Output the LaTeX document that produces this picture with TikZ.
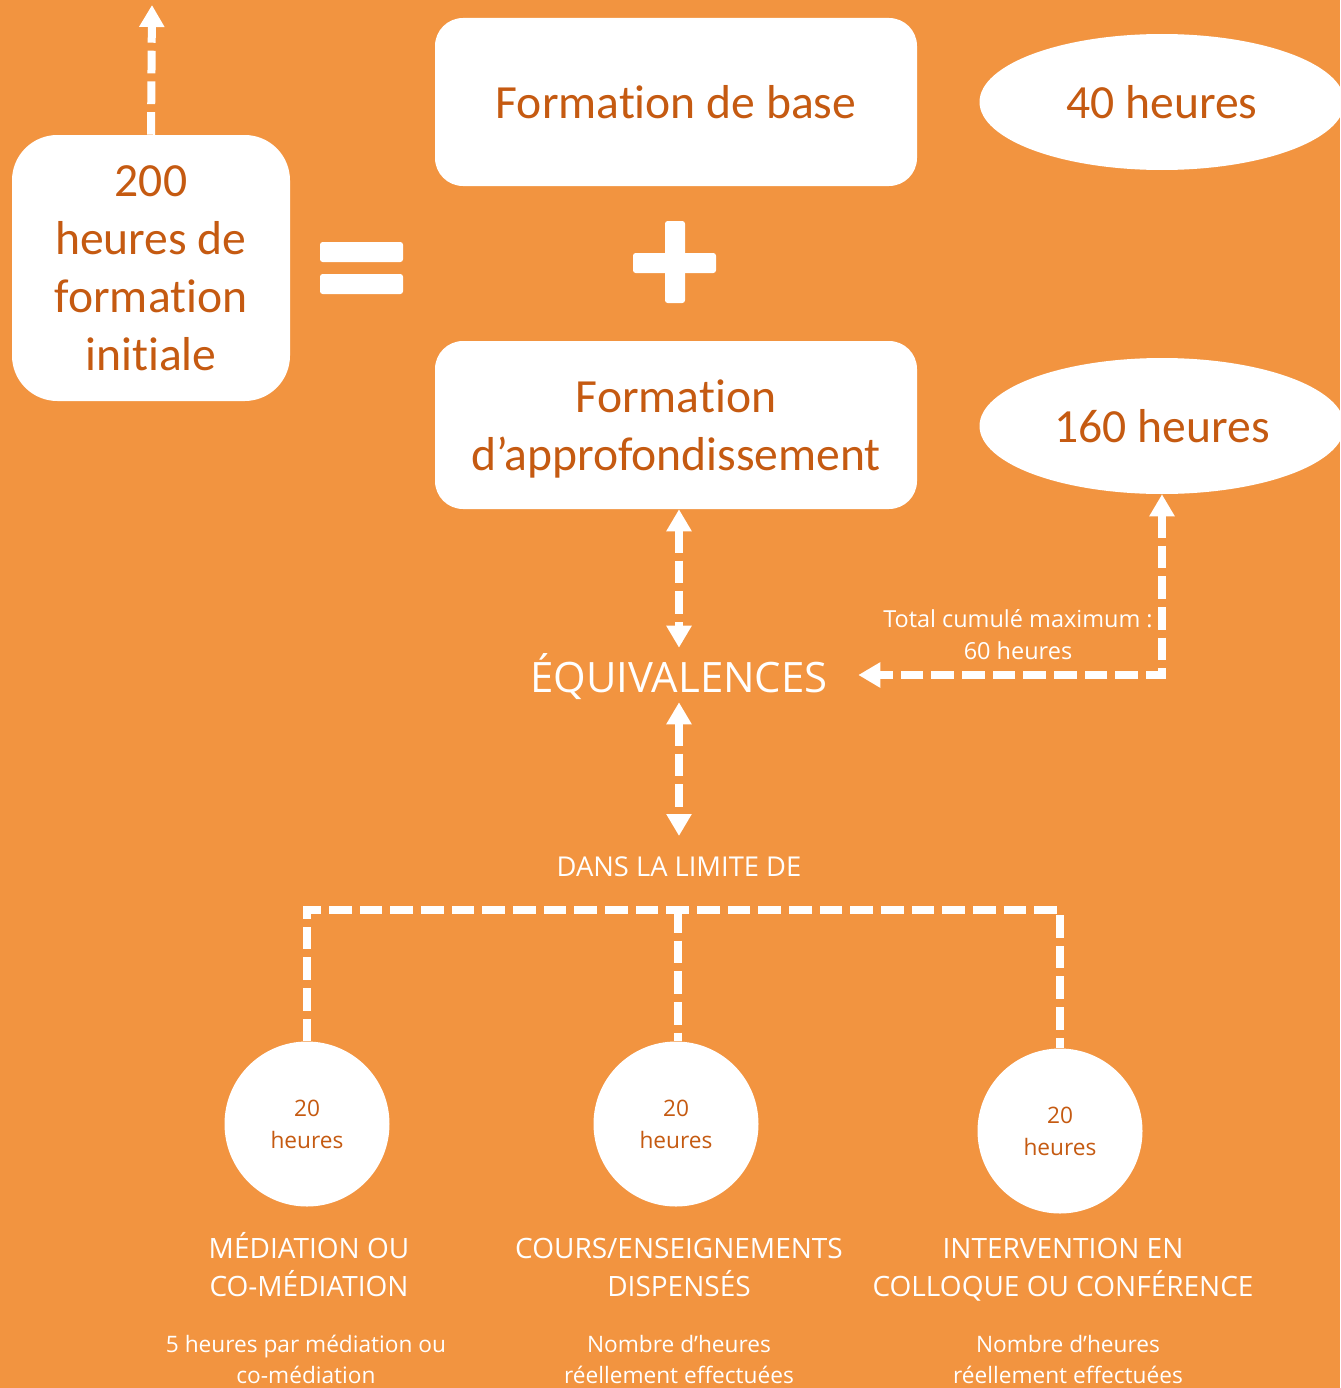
\documentclass[tikz,border=0pt]{standalone}
\usepackage{fontspec}
\setmainfont{Carlito}[RawFeature={-liga;-clig;-calt;-dlig}]
\newfontfamily\osans{Open Sans}
\usetikzlibrary{arrows.meta,shapes.geometric}

\definecolor{bgorange}{RGB}{242,148,64}
\definecolor{txtorange}{RGB}{197,90,17}

\tikzset{
  whitebox/.style={fill=white, text=txtorange, align=center, inner sep=0pt,
    font=\fontsize{35.7}{43.5}\selectfont},
  hourell/.style={ellipse, fill=white, text=txtorange, inner sep=0pt,
    minimum width=273.75pt, minimum height=102pt, font=\fontsize{35.7}{43.5}\selectfont},
  hourdot/.style={circle, fill=white, text=txtorange, align=center, inner sep=0pt,
    minimum size=123.75pt, font=\osans\fontsize{17}{24}\selectfont},
  whitetext/.style={text=white, align=center, inner sep=0pt},
  dashline/.style={white, line width=6pt, dash pattern=on 17pt off 6pt},
  tri/.tip={Triangle[width=18pt,length=16.5pt]}
}

\begin{document}
\begin{tikzpicture}[x=0.75pt,y=0.75pt,yscale=-1,xscale=1]
\useasboundingbox (0,0) rectangle (1340,1388);
\clip (0,0) rectangle (1340,1388);
%Shape: Background
\fill[bgorange] (0,0) rectangle (1340,1388);

%Shape: Rounded Rect [200 heures]
\node[whitebox, rounded corners=34pt, minimum width=208.5pt, minimum height=199.5pt] (initiale) at (151,268) {200\\heures de\\formation\\initiale};
%Shape: Rounded Rect [base]
\node[whitebox, rounded corners=21pt, minimum width=361.5pt, minimum height=126pt] (base) at (676,102) {Formation de base};
%Shape: Rounded Rect [approfondissement]
\node[whitebox, rounded corners=21pt, minimum width=361.5pt, minimum height=126pt, text depth=0pt] (appro) at (676,425) {Formation\\d’approfondissement};

%Shape: Ellipse
\node[hourell] (h40) at (1162,102) {40 heures};
%Shape: Ellipse
\node[hourell] (h160) at (1162,426) {160 heures};

%Shape: Equals
\fill[white, rounded corners=2pt] (320,242) rectangle (403,262);
\fill[white, rounded corners=2pt] (320,274) rectangle (403,294);
%Shape: Plus
\fill[white, rounded corners=2pt] (665,221) rectangle (685,303);
\fill[white, rounded corners=2pt] (633,253) rectangle (716,273);

% Text Node
\node[whitetext, font=\osans\fontsize{31.4}{36}\selectfont, text height=33pt, text depth=7.5pt, minimum width=268.5pt] (equiv) at (679,675) {ÉQUIVALENCES};
% Text Node
\node[whitetext, font=\osans\fontsize{17.6}{24}\selectfont] (cumul) at (1018,635) {Total cumulé maximum :\\60 heures};
% Text Node
\node[whitetext, font=\osans\fontsize{20.5}{26}\selectfont, text height=30pt, text depth=3pt, anchor=north] (limite) at (679,836) {DANS LA LIMITE DE};

%Shape: Circle
\node[hourdot] (med) at (307,1124) {20\\heures};
\node[hourdot] (cours) at (676,1124) {20\\heures};
\node[hourdot] (conf) at (1060,1131) {20\\heures};

% Text Node
\node[whitetext, font=\osans\fontsize{21}{28.5}\selectfont] (medlbl) at (309,1265) {MÉDIATION OU\\CO-MÉDIATION};
\node[whitetext, font=\osans\fontsize{21}{28.5}\selectfont] (courslbl) at (679,1267) {COURS/ENSEIGNEMENTS\\DISPENSÉS};
\node[whitetext, font=\osans\fontsize{21}{28.5}\selectfont] (conflbl) at (1063,1270) {INTERVENTION EN\\COLLOQUE OU CONFÉRENCE};
% Text Node
\node[whitetext, font=\osans\fontsize{17}{23.25}\selectfont] (medsub) at (306,1359) {5 heures par médiation ou\\co-médiation};
\node[whitetext, font=\osans\fontsize{17}{23.25}\selectfont] (courssub) at (679,1359) {Nombre d’heures\\réellement effectuées};
\node[whitetext, font=\osans\fontsize{17}{23.25}\selectfont] (confsub) at (1068,1359) {Nombre d’heures\\réellement effectuées};

%Straight Lines
\coordinate (top) at (152,5);
\coordinate (hub) at (678,910);
\draw[dashline, -tri] (initiale.north) -- (top);
\draw[dashline, tri-tri] (equiv.north |- appro.south) -- (equiv.north);
\draw[dashline, tri-tri] (h160.south) |- (equiv.east);
\draw[dashline, tri-tri] (equiv.south) -- (limite.north);
\draw[dashline] (med.north) |- (hub) -| (conf.north);
\draw[dashline] (hub) -- (hub |- cours.north);

\end{tikzpicture}
\end{document}
